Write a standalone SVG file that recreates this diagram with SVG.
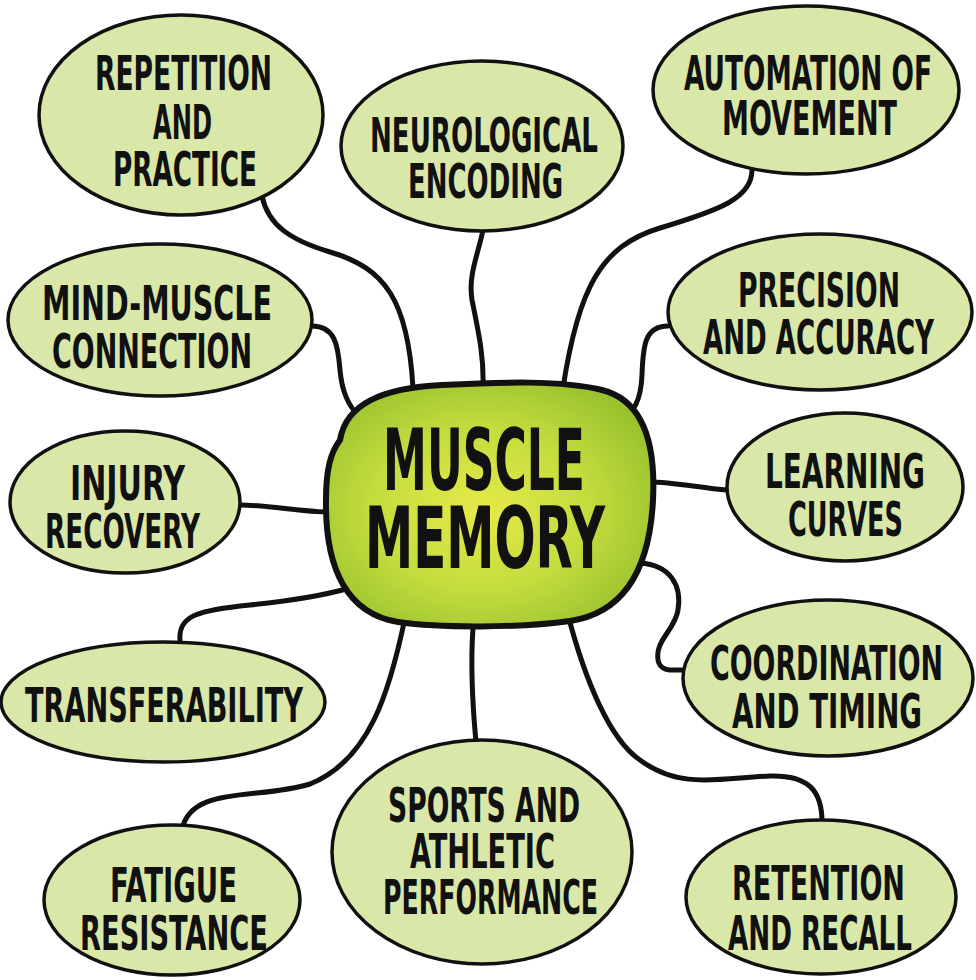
<svg xmlns="http://www.w3.org/2000/svg" width="976" height="980" viewBox="0 0 976 980">
<defs>
<radialGradient id="cg" cx="0.47" cy="0.52" r="0.6">
<stop offset="0" stop-color="#e6ea48"/>
<stop offset="0.55" stop-color="#c4dc3e"/>
<stop offset="1" stop-color="#98c22e"/>
</radialGradient>
<style>
.n{fill:#d9e8a9;stroke:#111;stroke-width:3.5}
.t{font-family:"Liberation Sans Narrow","DejaVu Sans Condensed","Liberation Sans",sans-serif;font-weight:bold;font-size:48px;fill:#111}
.big{font-size:86px}
.c{fill:none;stroke:#111;stroke-width:5;stroke-linecap:round;stroke-linejoin:round}
</style>
</defs>
<rect width="976" height="980" fill="#fff"/>
<g id="connectors">
<path class="c" d="M262,196 C268,225 290,240 330,252 C385,268 408,300 413,388"/>
<path class="c" d="M483,230 C478,255 468,275 472,300 C478,330 484,355 483,386"/>
<path class="c" d="M752,170 C752,198 720,210 660,228 C600,246 578,290 563,388"/>
<path class="c" d="M312,326 C335,326 338,345 340,370 C342,392 348,405 360,418"/>
<path class="c" d="M668,326 C645,326 643,345 642,375 C641,400 635,412 616,425"/>
<path class="c" d="M240,505 C270,505 300,512 330,512"/>
<path class="c" d="M727,490 C700,488 675,482 648,482"/>
<path class="c" d="M180,640 C178,615 200,610 250,605 C300,600 325,595 350,588"/>
<path class="c" d="M640,563 C670,565 682,585 678,610 C675,630 655,640 658,660 C660,672 672,670 684,670"/>
<path class="c" d="M568,615 C585,680 610,740 640,760 C680,790 720,778 770,776 C808,775 822,790 822,822"/>
<path class="c" d="M473,628 C470,670 473,710 476,742"/>
<path class="c" d="M405,618 C390,690 370,760 310,784 C260,800 190,785 182,830"/>
</g>
<g id="center">
<path d="M340,440 C346,404 382,388 442,385 C502,382 562,380 602,390 C642,400 656,440 653,500 C650,560 630,612 570,621 C520,628 440,628 398,622 C348,614 325,570 326,500 C326,468 331,452 340,440 Z" fill="url(#cg)" stroke="#111" stroke-width="6"/>
<text class="t big" x="383" y="490" textLength="202" lengthAdjust="spacingAndGlyphs">MUSCLE</text>
<text class="t big" x="365" y="568" textLength="240" lengthAdjust="spacingAndGlyphs">MEMORY</text>
</g>
<g id="n1">
<ellipse class="n" cx="181" cy="115" rx="142" ry="100"/>
<text class="t" x="95" y="90" textLength="177" lengthAdjust="spacingAndGlyphs">REPETITION</text>
<text class="t" x="153" y="139" textLength="59" lengthAdjust="spacingAndGlyphs">AND</text>
<text class="t" x="113" y="186" textLength="144" lengthAdjust="spacingAndGlyphs">PRACTICE</text>
</g>
<g id="n2">
<ellipse class="n" cx="482" cy="146" rx="141" ry="85"/>
<text class="t" x="370" y="152" textLength="228" lengthAdjust="spacingAndGlyphs">NEUROLOGICAL</text>
<text class="t" x="408" y="198" textLength="155" lengthAdjust="spacingAndGlyphs">ENCODING</text>
</g>
<g id="n3">
<ellipse class="n" cx="806" cy="90" rx="153" ry="84"/>
<text class="t" x="684" y="90" textLength="248" lengthAdjust="spacingAndGlyphs">AUTOMATION OF</text>
<text class="t" x="722" y="135" textLength="175" lengthAdjust="spacingAndGlyphs">MOVEMENT</text>
</g>
<g id="n4">
<ellipse class="n" cx="160" cy="320" rx="152" ry="76"/>
<text class="t" x="42" y="320" textLength="230" lengthAdjust="spacingAndGlyphs">MIND-MUSCLE</text>
<text class="t" x="52" y="368" textLength="200" lengthAdjust="spacingAndGlyphs">CONNECTION</text>
</g>
<g id="n5">
<ellipse class="n" cx="820" cy="312" rx="152" ry="78"/>
<text class="t" x="738" y="307" textLength="162" lengthAdjust="spacingAndGlyphs">PRECISION</text>
<text class="t" x="703" y="354" textLength="231" lengthAdjust="spacingAndGlyphs">AND ACCURACY</text>
</g>
<g id="n6">
<ellipse class="n" cx="125" cy="502" rx="115" ry="71"/>
<text class="t" x="70" y="500" textLength="115" lengthAdjust="spacingAndGlyphs">INJURY</text>
<text class="t" x="45" y="548" textLength="155" lengthAdjust="spacingAndGlyphs">RECOVERY</text>
</g>
<g id="n7">
<ellipse class="n" cx="845" cy="487" rx="118" ry="74"/>
<text class="t" x="765" y="488" textLength="160" lengthAdjust="spacingAndGlyphs">LEARNING</text>
<text class="t" x="788" y="536" textLength="115" lengthAdjust="spacingAndGlyphs">CURVES</text>
</g>
<g id="n8">
<ellipse class="n" cx="163" cy="702" rx="162" ry="60"/>
<text class="t" x="25" y="722" textLength="278" lengthAdjust="spacingAndGlyphs">TRANSFERABILITY</text>
</g>
<g id="n9">
<ellipse class="n" cx="828" cy="678" rx="145" ry="78"/>
<text class="t" x="710" y="680" textLength="233" lengthAdjust="spacingAndGlyphs">COORDINATION</text>
<text class="t" x="732" y="728" textLength="190" lengthAdjust="spacingAndGlyphs">AND TIMING</text>
</g>
<g id="n10">
<ellipse class="n" cx="172" cy="900" rx="128" ry="75"/>
<text class="t" x="110" y="902" textLength="127" lengthAdjust="spacingAndGlyphs">FATIGUE</text>
<text class="t" x="80" y="950" textLength="188" lengthAdjust="spacingAndGlyphs">RESISTANCE</text>
</g>
<g id="n11">
<ellipse class="n" cx="482" cy="852" rx="150" ry="112"/>
<text class="t" x="388" y="822" textLength="192" lengthAdjust="spacingAndGlyphs">SPORTS AND</text>
<text class="t" x="410" y="868" textLength="145" lengthAdjust="spacingAndGlyphs">ATHLETIC</text>
<text class="t" x="383" y="914" textLength="215" lengthAdjust="spacingAndGlyphs">PERFORMANCE</text>
</g>
<g id="n12">
<ellipse class="n" cx="821" cy="897" rx="135" ry="77"/>
<text class="t" x="732" y="900" textLength="173" lengthAdjust="spacingAndGlyphs">RETENTION</text>
<text class="t" x="728" y="950" textLength="184" lengthAdjust="spacingAndGlyphs">AND RECALL</text>
</g>
</svg>
